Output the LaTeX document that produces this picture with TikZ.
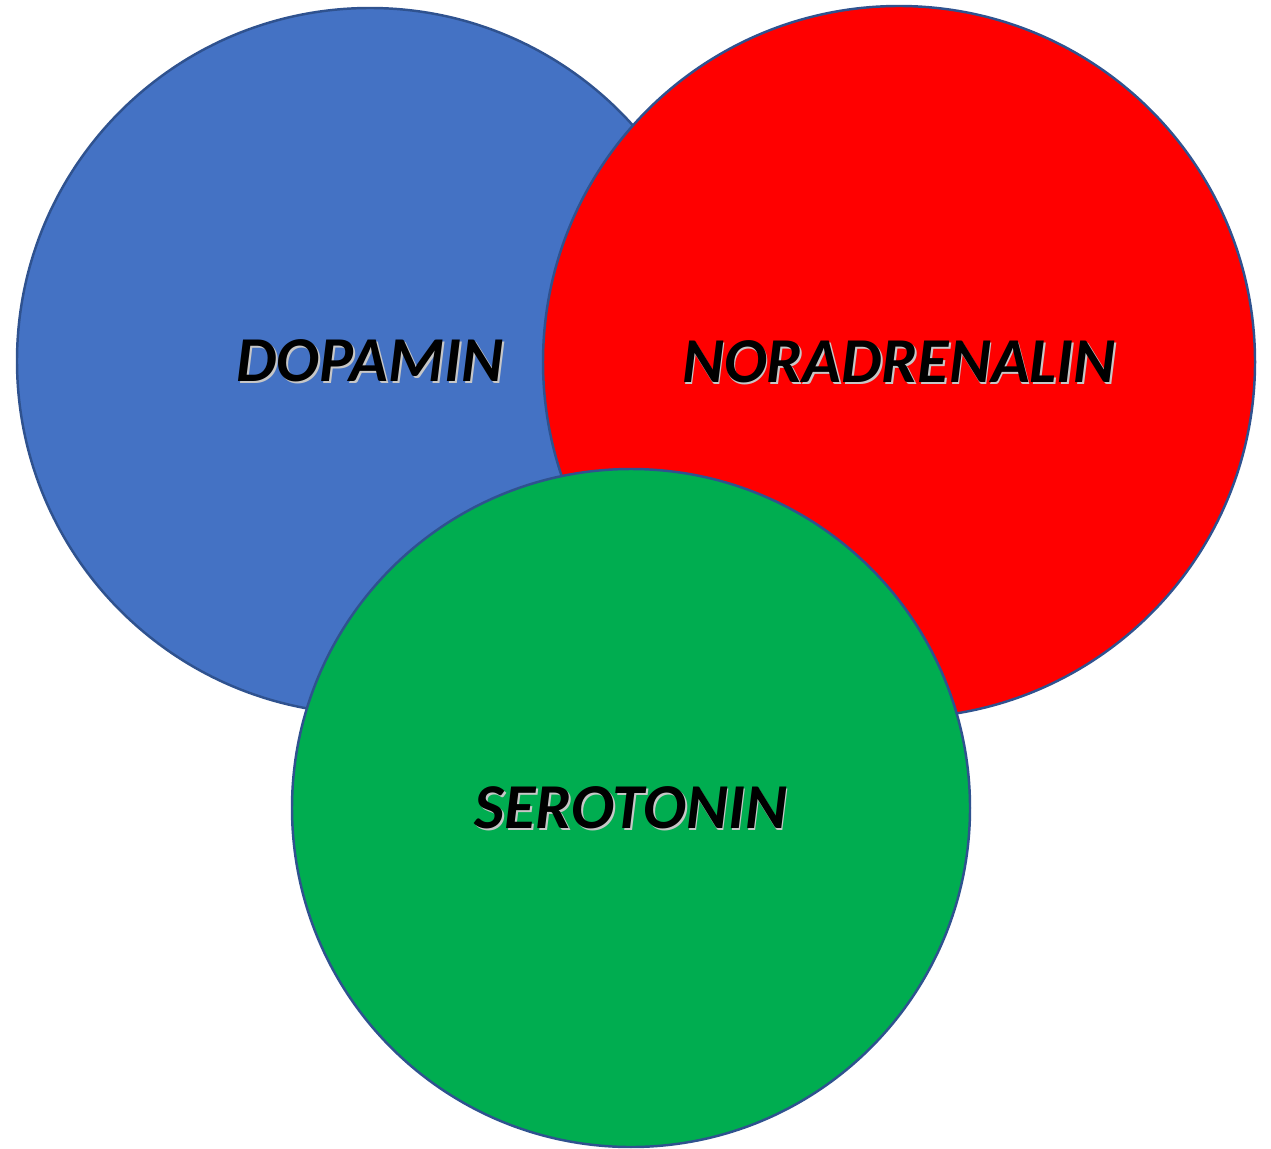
\documentclass[tikz,border=0pt]{standalone}
\usepackage{fontspec}
\setmainfont{Carlito}
\usepackage{tikz}

\definecolor{dopablue}{HTML}{4472C4}
\definecolor{norared}{HTML}{FF0000}
\definecolor{serogreen}{HTML}{00AD50}
\definecolor{rimblue}{HTML}{2F528F}

\tikzset{
  ball/.style={circle,draw=rimblue,line width=0.7pt,inner sep=0pt},
  word/.style={font=\fontsize{18.2}{22}\selectfont\bfseries\itshape,text=black},
  wordshadow/.style={font=\fontsize{18.2}{22}\selectfont\bfseries\itshape,text=black!22}
}

\begin{document}
\begin{tikzpicture}
  \useasboundingbox (0,0) rectangle (12.71,11.48);
  % the three circles
  \node[ball,fill=dopablue,minimum size=7.06cm] (dopamin) at (3.70,7.87) {};
  \node[ball,fill=norared,minimum size=7.12cm] (noradrenalin) at (8.99,7.86) {};
  \node[ball,fill=serogreen,minimum size=6.78cm] (serotonin) at (6.31,3.40) {};
  % labels
  \node[wordshadow] at ([xshift=0.5pt,yshift=-0.5pt]dopamin.center) {DOPAMIN};
  \node[word] (dopaminlabel) at (dopamin.center) {DOPAMIN};
  \node[wordshadow] at ([xshift=0.5pt,yshift=-0.5pt]noradrenalin.center) {NORADRENALIN};
  \node[word] (noradrenalinlabel) at (noradrenalin.center) {NORADRENALIN};
  \node[wordshadow] at ([xshift=0.5pt,yshift=-0.5pt]serotonin.center) {SEROTONIN};
  \node[word] (serotoninlabel) at (serotonin.center) {SEROTONIN};
\end{tikzpicture}
\end{document}
